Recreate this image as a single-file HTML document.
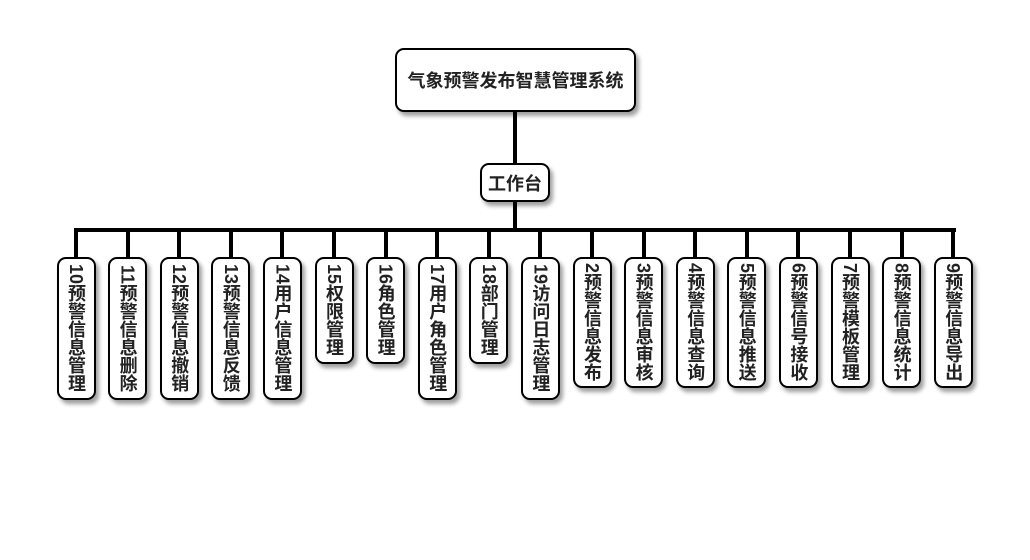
<!DOCTYPE html>
<html>
<head>
<meta charset="utf-8">
<style>
  html, body { margin:0; padding:0; background:#fff; }
  body { width:1030px; height:560px; position:relative; overflow:hidden;
         font-family:"Liberation Sans","Noto Sans CJK SC","WenQuanYi Zen Hei",sans-serif; }
  .ln { position:absolute; background:#000; }
  .box { position:absolute; box-sizing:border-box; border:2px solid #000; background:#fff;
         border-radius:9px; box-shadow:3px 4px 4px rgba(0,0,0,0.38);
         display:flex; align-items:center; justify-content:center; color:#222; font-weight:bold; }
  .h { font-size:18px; white-space:nowrap; }
  .v { writing-mode:vertical-rl; text-orientation:mixed; font-size:18px; line-height:1; white-space:nowrap; }
</style>
</head>
<body>
  <!-- connectors -->
  <div class="ln" style="left:513px;top:110px;width:4px;height:55px;"></div>
  <div class="ln" style="left:513px;top:200px;width:4px;height:30px;"></div>
  <div class="ln" style="left:74px;top:228px;width:882px;height:4px;"></div>

  <div class="box" style="left:395px;top:48px;width:241px;height:64px;"><span class="h">气象预警发布智慧管理系统</span></div>
  <div class="box" style="left:480px;top:163px;width:70px;height:39px;"><span class="h">工作台</span></div>

  <div id="kids"></div>

  <div class="ln" style="left:74px;top:230px;width:4px;height:28px;"></div>
  <div class="ln" style="left:125.6px;top:230px;width:4px;height:28px;"></div>
  <div class="ln" style="left:177.2px;top:230px;width:4px;height:28px;"></div>
  <div class="ln" style="left:228.8px;top:230px;width:4px;height:28px;"></div>
  <div class="ln" style="left:280.4px;top:230px;width:4px;height:28px;"></div>
  <div class="ln" style="left:332px;top:230px;width:4px;height:28px;"></div>
  <div class="ln" style="left:383.6px;top:230px;width:4px;height:28px;"></div>
  <div class="ln" style="left:435.2px;top:230px;width:4px;height:28px;"></div>
  <div class="ln" style="left:486.8px;top:230px;width:4px;height:28px;"></div>
  <div class="ln" style="left:538.4px;top:230px;width:4px;height:28px;"></div>
  <div class="ln" style="left:590px;top:230px;width:4px;height:28px;"></div>
  <div class="ln" style="left:641.6px;top:230px;width:4px;height:28px;"></div>
  <div class="ln" style="left:693.2px;top:230px;width:4px;height:28px;"></div>
  <div class="ln" style="left:744.8px;top:230px;width:4px;height:28px;"></div>
  <div class="ln" style="left:796.4px;top:230px;width:4px;height:28px;"></div>
  <div class="ln" style="left:848px;top:230px;width:4px;height:28px;"></div>
  <div class="ln" style="left:899.6px;top:230px;width:4px;height:28px;"></div>
  <div class="ln" style="left:951.2px;top:230px;width:4px;height:28px;"></div>

  <div class="box" style="left:56.5px;top:257px;width:39px;height:143px;"><span class="v">10预警信息管理</span></div>
  <div class="box" style="left:108.1px;top:257px;width:39px;height:143px;"><span class="v">11预警信息删除</span></div>
  <div class="box" style="left:159.7px;top:257px;width:39px;height:143px;"><span class="v">12预警信息撤销</span></div>
  <div class="box" style="left:211.3px;top:257px;width:39px;height:143px;"><span class="v">13预警信息反馈</span></div>
  <div class="box" style="left:262.9px;top:257px;width:39px;height:143px;"><span class="v">14用户信息管理</span></div>
  <div class="box" style="left:314.5px;top:257px;width:39px;height:107px;"><span class="v">15权限管理</span></div>
  <div class="box" style="left:366.1px;top:257px;width:39px;height:107px;"><span class="v">16角色管理</span></div>
  <div class="box" style="left:417.7px;top:257px;width:39px;height:143px;"><span class="v">17用户角色管理</span></div>
  <div class="box" style="left:469.3px;top:257px;width:39px;height:107px;"><span class="v">18部门管理</span></div>
  <div class="box" style="left:520.9px;top:257px;width:39px;height:143px;"><span class="v">19访问日志管理</span></div>
  <div class="box" style="left:572.5px;top:257px;width:39px;height:131px;"><span class="v">2预警信息发布</span></div>
  <div class="box" style="left:624.1px;top:257px;width:39px;height:131px;"><span class="v">3预警信息审核</span></div>
  <div class="box" style="left:675.7px;top:257px;width:39px;height:131px;"><span class="v">4预警信息查询</span></div>
  <div class="box" style="left:727.3px;top:257px;width:39px;height:131px;"><span class="v">5预警信息推送</span></div>
  <div class="box" style="left:778.9px;top:257px;width:39px;height:131px;"><span class="v">6预警信号接收</span></div>
  <div class="box" style="left:830.5px;top:257px;width:39px;height:131px;"><span class="v">7预警模板管理</span></div>
  <div class="box" style="left:882.1px;top:257px;width:39px;height:131px;"><span class="v">8预警信息统计</span></div>
  <div class="box" style="left:933.7px;top:257px;width:39px;height:131px;"><span class="v">9预警信息导出</span></div>
</body>
</html>
